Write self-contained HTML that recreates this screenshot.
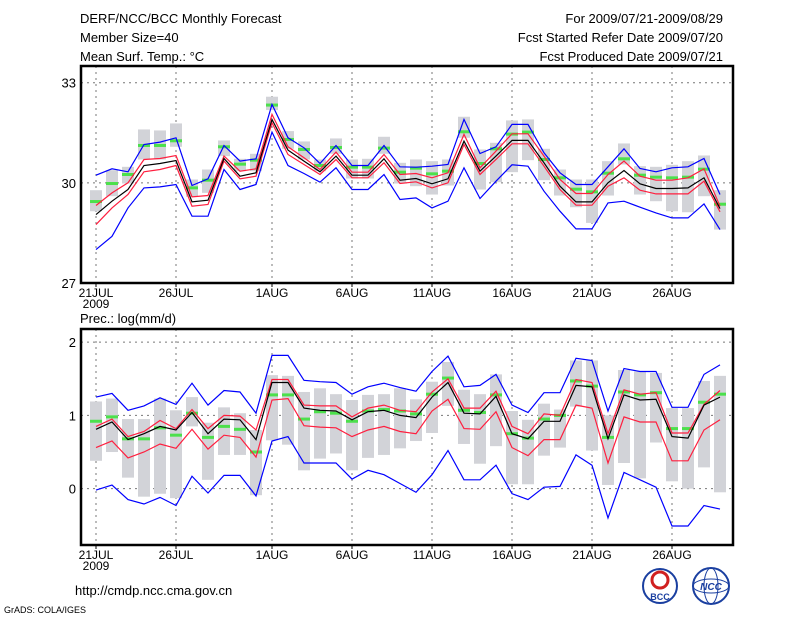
<!DOCTYPE html>
<html><head><meta charset="utf-8"><style>
html,body{margin:0;padding:0;background:#fff;}
svg{display:block;font-family:"Liberation Sans",sans-serif;}
</style></head><body>
<svg id="chart" width="800" height="618" viewBox="0 0 800 618" xmlns="http://www.w3.org/2000/svg">
<rect x="0" y="0" width="800" height="618" fill="#fff"/>
<g font-size="13" fill="#000">
<text x="80" y="23">DERF/NCC/BCC Monthly Forecast</text>
<text x="80" y="42">Member Size=40</text>
<text x="80" y="61">Mean Surf. Temp.: °C</text>
<text x="723" y="23" text-anchor="end">For 2009/07/21-2009/08/29</text>
<text x="723" y="42" text-anchor="end">Fcst Started Refer Date 2009/07/20</text>
<text x="723" y="61" text-anchor="end">Fcst Produced Date 2009/07/21</text>
<text x="80" y="323">Prec.: log(mm/d)</text>
<text x="75" y="595">http://cmdp.ncc.cma.gov.cn</text>
<text x="4" y="613" font-size="9">GrADS: COLA/IGES</text>
</g>
<g>
<circle cx="660" cy="586" r="17" fill="#fff" stroke="#1a3fa0" stroke-width="2"/>
<circle cx="660" cy="580" r="8" fill="none" stroke="#d02020" stroke-width="3"/>
<text x="660" y="600" font-size="9" font-weight="bold" text-anchor="middle" fill="#1a3fa0">BCC</text>
<circle cx="711" cy="586" r="18" fill="#fff" stroke="#1a3fa0" stroke-width="2"/>
<ellipse cx="711" cy="586" rx="18" ry="7" fill="none" stroke="#1a3fa0" stroke-width="1"/>
<ellipse cx="711" cy="586" rx="7" ry="18" fill="none" stroke="#1a3fa0" stroke-width="1"/>
<text x="711" y="590" font-size="10" font-weight="bold" font-style="italic" text-anchor="middle" fill="#1a3fa0">NCC</text>
</g>
<g id="top"></g>
<g id="bot"></g>
</svg>
<script>
const dayLabels = ["21JUL","26JUL","1AUG","6AUG","11AUG","16AUG","21AUG","26AUG"];
const dayLabelIdx = [0,5,11,16,21,26,31,36];
const tTicks = [27,30,33];
const pTicks = [0,1,2];

const tMean = [29.05,29.45,29.8,30.52,30.58,30.67,29.43,29.48,30.73,30.2,30.3,31.9,30.98,30.65,30.33,30.8,30.23,30.23,30.72,30.08,30.13,29.97,30.12,31.25,30.35,30.8,31.27,31.27,30.6,29.9,29.43,29.43,30.0,30.37,29.97,29.83,29.83,29.85,30.15,29.23];
const tRedHi = [29.32,29.7,30.0,30.7,30.73,30.82,29.58,29.62,30.8,30.35,30.42,32.05,31.08,30.75,30.4,30.92,30.32,30.32,30.85,30.25,30.28,30.15,30.3,31.45,30.45,30.95,31.47,31.47,30.8,30.1,29.68,29.68,30.25,30.65,30.2,30.08,30.08,30.15,30.42,29.3];
const tRedLo = [28.75,29.25,29.65,30.33,30.4,30.52,29.3,29.35,30.65,30.12,30.2,31.8,30.85,30.55,30.25,30.7,30.15,30.15,30.6,29.98,30.03,29.85,30.0,31.15,30.25,30.7,31.17,31.17,30.5,29.8,29.33,29.33,29.9,30.15,29.78,29.67,29.67,29.67,30.05,29.13];
const tMax = [30.23,30.42,30.33,31.15,31.22,31.35,29.92,30.12,31.12,30.65,30.72,32.35,31.35,31.05,30.58,31.12,30.52,30.52,31.12,30.48,30.47,30.5,30.55,31.9,30.88,31.08,31.75,31.75,30.9,30.3,29.95,29.95,30.48,31.02,30.43,30.33,30.45,30.48,30.73,29.65];
const tMin = [28.0,28.4,29.25,29.85,29.88,29.95,29.0,29.0,30.4,29.8,29.95,31.52,30.52,30.28,30.02,30.45,29.8,29.8,30.25,29.5,29.55,29.25,29.45,30.45,29.53,30.05,30.54,30.5,29.75,29.15,28.62,28.62,29.4,29.45,29.27,29.1,28.95,28.95,29.37,28.6];
const tObs = [29.44,29.98,30.25,31.12,31.12,31.26,29.85,30.08,31.08,30.56,30.68,32.33,31.3,31.0,30.52,31.06,30.47,30.47,31.04,30.32,30.44,30.27,30.35,31.53,30.58,31.02,31.46,31.52,30.7,30.15,29.81,29.73,30.29,30.72,30.23,30.17,30.15,30.17,30.41,29.36];
const tBoxHi = [29.78,30.38,30.48,31.6,31.57,31.78,30.1,30.4,31.27,30.72,30.87,32.58,31.55,31.24,30.7,31.33,30.7,30.72,31.38,30.6,30.7,30.65,30.7,31.98,31.0,31.2,31.87,31.9,31.02,30.4,30.1,30.1,30.65,31.18,30.5,30.48,30.54,30.65,30.82,29.78];
const tBoxLo = [29.15,29.6,29.98,30.7,30.7,31.08,29.58,29.7,30.8,30.35,30.35,32.18,31.02,30.7,30.35,30.87,30.13,30.13,30.87,29.98,29.9,29.65,29.92,31.35,29.8,30.02,30.32,30.68,30.08,29.62,29.27,28.8,29.62,30.55,29.65,29.45,29.15,29.12,29.6,28.6];

const pMean = [0.81,0.91,0.67,0.75,0.85,0.80,1.04,0.75,0.95,0.94,0.67,1.45,1.45,1.10,1.07,1.06,0.94,1.05,1.07,1.00,0.97,1.25,1.45,1.03,1.02,1.26,0.75,0.68,0.92,0.92,1.41,1.39,0.68,1.28,1.21,1.22,0.71,0.69,1.14,1.25];
const pRedHi = [0.85,0.95,0.71,0.78,0.93,0.82,1.08,0.82,1.00,0.99,0.80,1.49,1.49,1.14,1.13,1.13,0.98,1.10,1.14,1.07,1.05,1.32,1.50,1.10,1.10,1.33,0.85,0.75,1.02,1.00,1.49,1.45,0.75,1.35,1.29,1.31,0.76,0.76,1.15,1.34];
const pRedLo = [0.56,0.65,0.42,0.50,0.61,0.55,0.81,0.54,0.73,0.70,0.43,1.21,1.23,0.86,0.84,0.83,0.71,0.80,0.85,0.78,0.75,1.06,1.22,0.82,0.81,1.05,0.56,0.45,0.67,0.67,1.14,1.10,0.35,0.98,0.91,0.91,0.38,0.38,0.80,0.94];
const pMax = [1.25,1.30,1.07,1.13,1.24,1.15,1.44,1.14,1.34,1.32,1.03,1.82,1.82,1.48,1.46,1.45,1.29,1.39,1.44,1.38,1.33,1.60,1.81,1.39,1.41,1.56,1.14,1.04,1.31,1.31,1.78,1.75,1.06,1.64,1.60,1.60,1.11,1.11,1.56,1.69];
const pMin = [-0.02,0.05,-0.15,-0.21,-0.12,-0.23,0.17,-0.06,0.18,0.18,-0.10,0.65,0.71,0.35,0.35,0.35,0.13,0.25,0.19,0.07,-0.05,0.19,0.52,0.12,0.12,0.32,-0.07,-0.15,0.02,0.03,0.46,0.32,-0.40,0.22,0.12,0.02,-0.51,-0.51,-0.23,-0.28];
const pObs = [0.92,0.98,0.68,0.68,0.83,0.73,1.03,0.70,0.85,0.81,0.50,1.28,1.28,0.95,1.05,1.03,0.92,1.06,1.08,1.06,1.02,1.29,1.51,1.07,1.04,1.28,0.75,0.69,0.95,1.00,1.47,1.40,0.70,1.32,1.28,1.31,0.82,0.82,1.18,1.29];
const pBoxHi = [1.19,1.23,0.95,0.95,1.23,1.07,1.25,0.90,1.11,1.03,0.80,1.55,1.54,1.32,1.37,1.29,1.21,1.28,1.29,1.37,1.22,1.46,1.73,1.35,1.29,1.56,1.06,0.94,1.16,1.08,1.75,1.75,1.00,1.62,1.60,1.58,1.10,1.10,1.47,1.54];
const pBoxLo = [0.38,0.50,0.15,-0.11,-0.07,-0.13,0.85,0.12,0.46,0.46,-0.09,0.66,0.60,0.25,0.41,0.48,0.25,0.42,0.46,0.55,0.65,0.76,1.13,0.61,0.34,0.58,0.06,0.06,0.45,0.56,1.12,0.52,0.05,0.35,0.14,0.63,0.10,0.00,0.29,-0.05];

const NS="http://www.w3.org/2000/svg";
function mk(parent, tag, attrs){const e=document.createElementNS(NS,tag);for(const k in attrs)e.setAttribute(k,attrs[k]);parent.appendChild(e);return e;}
const xOf = d => 96 + 16*d;
const L=81, R=733;

function panel(g, top, bottom, vTop, vBot, yTicks, series, prefix){
  const yOf = v => top + (vTop - v)/(vTop - vBot)*(bottom - top);
  // grid
  yTicks.forEach(t=>{
    const y=yOf(t);
    const gl=mk(g,'line',{x1:L,x2:R,y1:y,y2:y,stroke:'#777','stroke-dasharray':'2,4','stroke-width':1});
    
    
    const tl=mk(g,'text',{x:76,y:y+5,'font-size':13,'text-anchor':'end'});
    tl.textContent=String(t);
    
    
  });
  dayLabelIdx.forEach((d,i)=>{
    const x=xOf(d);
    const gl=mk(g,'line',{x1:x,x2:x,y1:top,y2:bottom,stroke:'#777','stroke-dasharray':'2,4','stroke-width':1});
    
    
    const tk=mk(g,'line',{x1:x,x2:x,y1:bottom,y2:bottom+4,stroke:'#000','stroke-width':1});
    
    
    const tl=mk(g,'text',{x:x,y:bottom+14,'font-size':12,'text-anchor':'middle'});
    tl.textContent=dayLabels[i];
    
    
  });
  const yr=mk(g,'text',{x:xOf(0),y:bottom+25,'font-size':12,'text-anchor':'middle'});
  yr.textContent='2009';
  
  
  // boxes
  series.boxHi.forEach((hi,d)=>{
    const lo=series.boxLo[d];
    const b=mk(g,'rect',{x:xOf(d)-6,y:yOf(hi),width:12,height:Math.max(1,yOf(lo)-yOf(hi)),fill:'#d2d3d8'});
    
    
  });
  series.obs.forEach((v,d)=>{
    const r=mk(g,'rect',{x:xOf(d)-6,y:yOf(v)-1.5,width:12,height:3,fill:'#4ce04c'});
    
    
  });
  const lines=[[series.max,'#0000ff','max-line'],[series.min,'#0000ff','min-line'],[series.hi,'#ff1f3f','upper-red-line'],[series.lo,'#ff1f3f','lower-red-line'],[series.mean,'#000','mean-line']];
  lines.forEach(([arr,c,n])=>{
    const p=mk(g,'polyline',{points:arr.map((v,d)=>xOf(d)+','+yOf(v).toFixed(1)).join(' '),fill:'none',stroke:c,'stroke-width':1.2});
    
    
  });
  const fr=mk(g,'rect',{x:L,y:top,width:R-L,height:bottom-top,fill:'none',stroke:'#000','stroke-width':2.5});
  
  
}
const gt=document.getElementById('top');


panel(gt,66,283,33.5,27,tTicks.filter(t=>t>27),{mean:tMean,hi:tRedHi,lo:tRedLo,max:tMax,min:tMin,obs:tObs,boxHi:tBoxHi,boxLo:tBoxLo},'temp');
const l27=mk(gt,'text',{x:76,y:288,'font-size':13,'text-anchor':'end'});
l27.textContent='27';


const gb=document.getElementById('bot');


panel(gb,329,545,2.18,-0.77,pTicks,{mean:pMean,hi:pRedHi,lo:pRedLo,max:pMax,min:pMin,obs:pObs,boxHi:pBoxHi,boxLo:pBoxLo},'prec');
</script>
</body></html>
